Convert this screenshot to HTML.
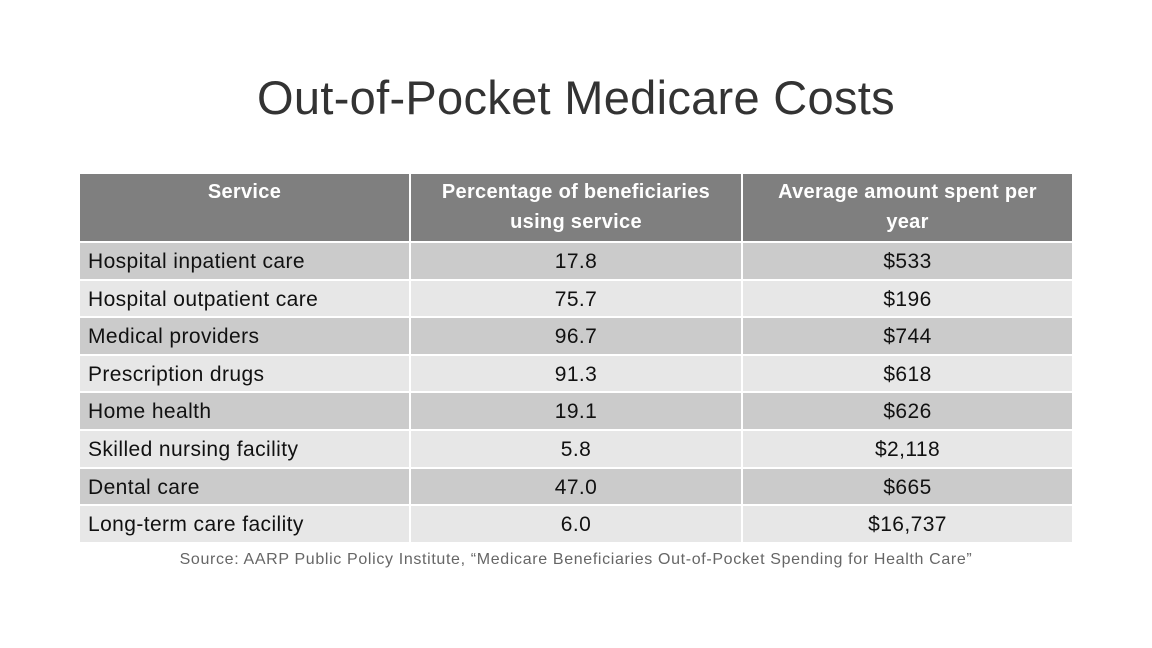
<!DOCTYPE html>
<html><head><meta charset="utf-8"><style>
body{margin:0;width:1152px;height:648px;background:#fff;position:relative;overflow:hidden;font-family:"Liberation Sans",sans-serif;}
.t{position:absolute;left:0;width:1152px;top:70px;text-align:center;font-size:47px;color:#333;letter-spacing:0.3px;}
.c{position:absolute;box-sizing:border-box;font-size:21px;color:#111;white-space:nowrap;letter-spacing:0.4px;}
.src{position:absolute;left:0;width:1152px;top:551px;text-align:center;font-size:16px;color:#666;letter-spacing:0.65px;}
</style></head><body>
<div class="t">Out-of-Pocket Medicare Costs</div>
<div id="tbl"></div>
<div class="src">Source: AARP Public Policy Institute, “Medicare Beneficiaries Out-of-Pocket Spending for Health Care”</div>
<script>
const services=["Hospital inpatient care","Hospital outpatient care","Medical providers","Prescription drugs","Home health","Skilled nursing facility","Dental care","Long-term care facility"];
const percents=["17.8","75.7","96.7","91.3","19.1","5.8","47.0","6.0"];
const amounts=["$533","$196","$744","$618","$626","$2,118","$665","$16,737"];
const headers=["Service","Percentage of beneficiaries<br>using service","Average amount spent per<br>year"];
const cols=[[80,329],[411,330],[743,329]];
const tbl=document.getElementById('tbl');
headers.forEach((h,i)=>{
  const d=document.createElement('div');
  
  
  d.className='c';
  d.style.cssText=`left:${cols[i][0]}px;top:174px;width:${cols[i][1]}px;height:67px;background:#7f7f7f;color:#fff;text-align:center;font-size:20px;font-weight:bold;letter-spacing:0.3px;line-height:30px;padding-top:3px;`;
  d.innerHTML=h;tbl.appendChild(d);
});
services.forEach((s,r)=>{
  const top=243+r*37.6;
  const vals=[s,percents[r],amounts[r]];
  vals.forEach((v,i)=>{
    const d=document.createElement('div');
    
    
    d.className='c';
    d.style.cssText=`left:${cols[i][0]}px;top:${top}px;width:${cols[i][1]}px;height:35.6px;background:${r%2?'#e7e7e7':'#cbcbcb'};line-height:38px;text-align:${i?'center':'left'};padding-left:${i?0:8}px;`;
    d.textContent=v;tbl.appendChild(d);
  });
});
</script>
</body></html>
